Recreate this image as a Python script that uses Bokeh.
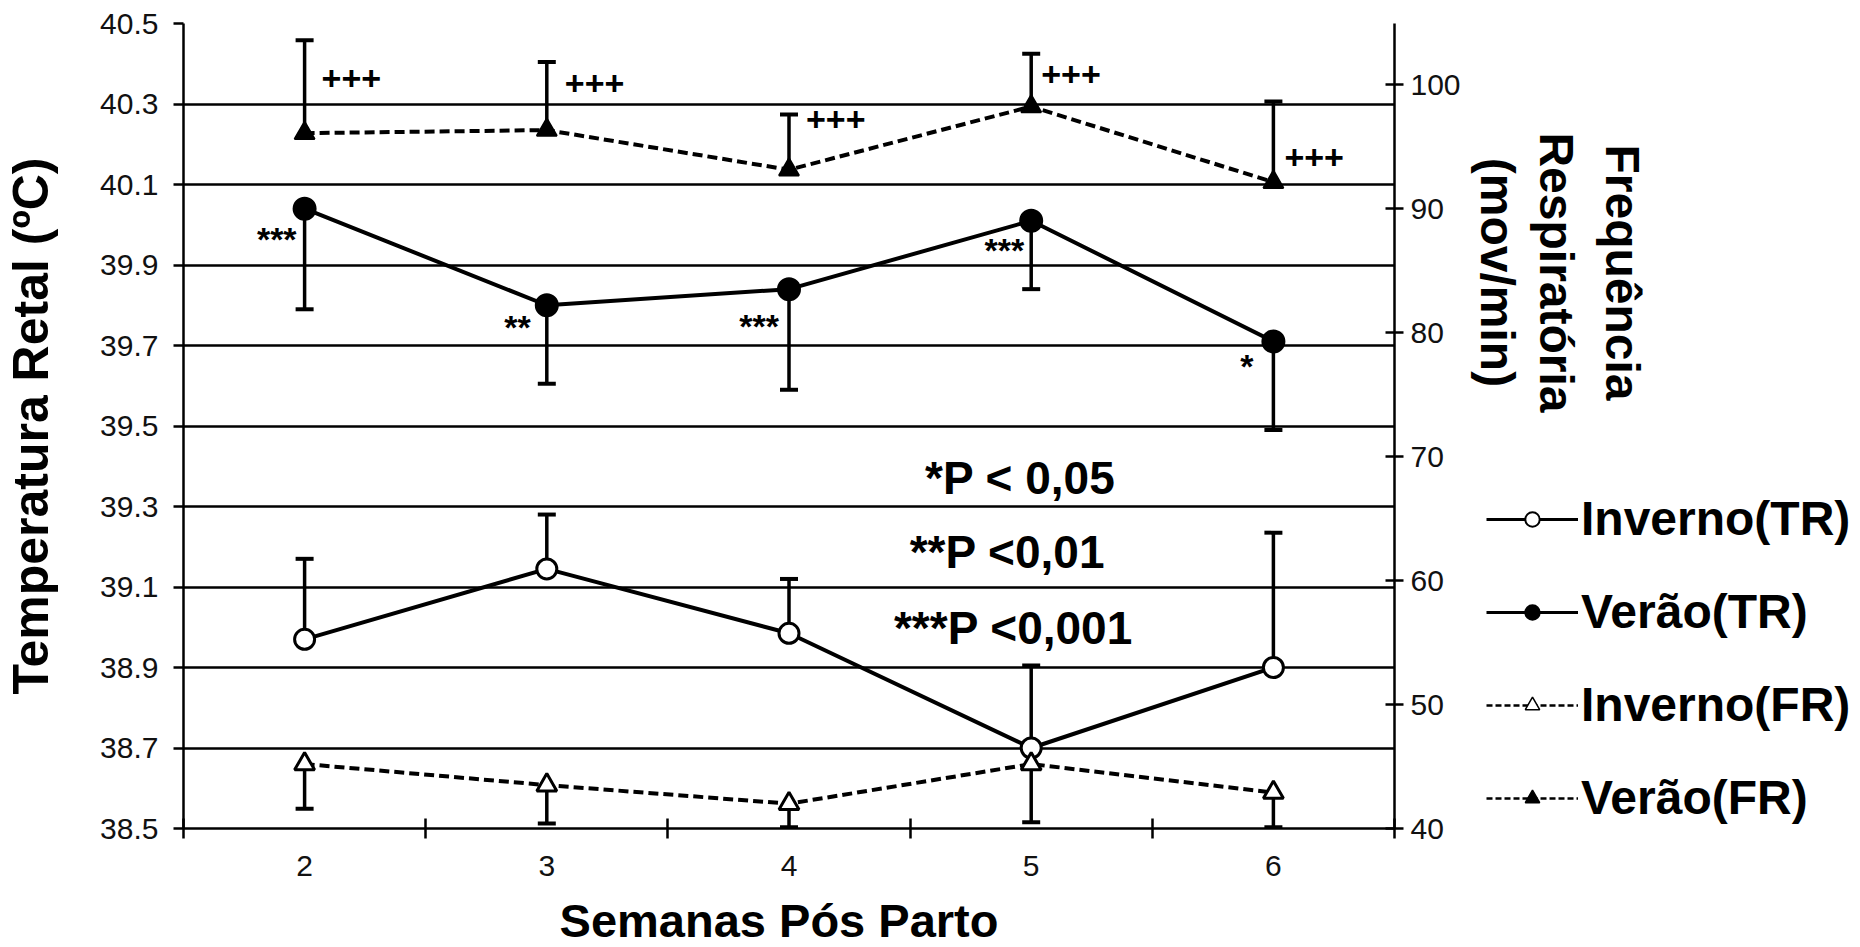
import math
from bokeh.plotting import figure
from bokeh.layouts import row, column
from bokeh.models import (Range1d, LinearAxis, FixedTicker, Legend, LegendItem,
                          Label, ColumnDataSource, NumeralTickFormatter)
from bokeh.core.properties import value
from bokeh.embed import file_html
from bokeh.resources import INLINE

# ---------------- data ----------------
weeks = [2, 3, 4, 5, 6]
tr_inverno = [38.97, 39.145, 38.985, 38.70, 38.90]
tr_inverno_up = [39.17, 39.28, 39.12, 38.905, 39.235]
tr_verao = [40.04, 39.80, 39.84, 40.01, 39.71]
tr_verao_low = [39.79, 39.605, 39.59, 39.84, 39.49]
fr_inverno = [45.2, 43.5, 42.0, 45.2, 42.9]
fr_inverno_low = [41.6, 40.4, 40.1, 40.5, 40.1]
fr_verao = [96.1, 96.35, 93.15, 98.25, 92.15]
fr_verao_up = [103.6, 101.85, 97.6, 102.5, 98.65]

sig_tr = ["***", "**", "***", "***", "*"]
sig_fr = ["+++", "+++", "+++", "+++", "+++"]

tr_ticks = [38.5, 38.7, 38.9, 39.1, 39.3, 39.5, 39.7, 39.9, 40.1, 40.3, 40.5]
fr_ticks = [40, 50, 60, 70, 80, 90, 100]
week_bounds = [1.5, 2.5, 3.5, 4.5, 5.5, 6.5]

series_names = ["Inverno(TR)", "Verão(TR)", "Inverno(FR)", "Verão(FR)"]
p_notes = ["*P < 0,05", "**P <0,01", "***P <0,001"]
x_title = "Semanas Pós Parto"
y_title = "Temperatura Retal (ºC)"
y2_title = ["Frequência", "Respiratória", "(mov/min)"]

FONT = "Liberation Sans"
MAIN_W, MAIN_H = 1465, 885
TOTAL_W, TOTAL_H = 1860, 947
FRAME_L, FRAME_R, FRAME_T, FRAME_B = 180, 1394, 23, 828

# ---------------- main figure ----------------
p = figure(width=MAIN_W, height=MAIN_H, output_backend="svg", toolbar_location=None,
           x_range=Range1d(1.5, 6.5), y_range=Range1d(38.5, 40.5),
           min_border_left=FRAME_L, min_border_right=MAIN_W - FRAME_R,
           min_border_top=FRAME_T, min_border_bottom=MAIN_H - FRAME_B)
p.extra_y_ranges = {"fr": Range1d(40, 104.95)}
p.outline_line_color = None

p.xgrid.visible = False
p.ygrid.ticker = FixedTicker(ticks=tr_ticks)
p.ygrid.grid_line_color = "black"
p.ygrid.grid_line_width = 2.5

la = p.yaxis[0]
la.ticker = FixedTicker(ticks=tr_ticks)
la.formatter = NumeralTickFormatter(format="0.0")
la.axis_label = y_title
la.axis_label_text_font = FONT
la.axis_label_text_font_style = "bold"
la.axis_label_text_font_size = "50px"
la.axis_label_text_color = "black"
la.axis_label_standoff = 38
la.major_label_text_font = FONT
la.major_label_text_font_size = "30px"
la.major_label_text_color = "#111111"
la.major_label_standoff = 15
la.major_tick_in = 0
la.major_tick_out = 10
la.major_tick_line_width = 2.5
la.minor_tick_line_color = None
la.axis_line_width = 2.5

xa = p.xaxis[0]
xa.ticker = FixedTicker(ticks=weeks, minor_ticks=week_bounds)
xa.major_label_text_font = FONT
xa.major_label_text_font_size = "30px"
xa.major_label_text_color = "#111111"
xa.major_label_standoff = 17
xa.major_tick_in = 0
xa.major_tick_out = 0
xa.minor_tick_in = 10
xa.minor_tick_out = 10
xa.minor_tick_line_width = 2.5
xa.minor_tick_line_color = "black"
xa.axis_line_width = 2.5

ra = LinearAxis(y_range_name="fr", ticker=FixedTicker(ticks=fr_ticks))
ra.major_label_text_font = FONT
ra.major_label_text_font_size = "30px"
ra.major_label_text_color = "#111111"
ra.major_label_standoff = 7
ra.major_tick_in = 9
ra.major_tick_out = 9
ra.major_tick_line_width = 2.5
ra.minor_tick_line_color = None
ra.axis_line_width = 2.5
p.add_layout(ra, "right")

src = ColumnDataSource(dict(
    w=weeks, tri=tr_inverno, triu=tr_inverno_up, trv=tr_verao, trvl=tr_verao_low,
    fri=fr_inverno, fril=fr_inverno_low, frv=fr_verao, frvu=fr_verao_up,
    sig_tr=sig_tr, sig_fr=sig_fr,
    tr_dx=[-8, -16, -10, -7, -20], tr_dy=[30, 22, 37, 29, 25],
    fr_dx=[17, 18, 17, 10, 11], fr_dy=[-55, -47, -50, -32, -25],
))

LW = 4
DASH = "10 5"

p.line("w", "tri", source=src, line_color="black", line_width=LW)
p.line("w", "trv", source=src, line_color="black", line_width=LW)
p.line("w", "fri", source=src, line_color="black", line_width=LW,
       line_dash=DASH, y_range_name="fr")
p.line("w", "frv", source=src, line_color="black", line_width=LW,
       line_dash=DASH, y_range_name="fr")

EB = 3.5
CAP = dict(marker="dash", size=18, line_color="black", line_width=4)
p.segment("w", "tri", "w", "triu", source=src, line_color="black", line_width=EB)
p.scatter("w", "triu", source=src, **CAP)
p.segment("w", "trv", "w", "trvl", source=src, line_color="black", line_width=EB)
p.scatter("w", "trvl", source=src, **CAP)
p.segment("w", "fri", "w", "fril", source=src, line_color="black", line_width=EB, y_range_name="fr")
p.scatter("w", "fril", source=src, y_range_name="fr", **CAP)
p.segment("w", "frv", "w", "frvu", source=src, line_color="black", line_width=EB, y_range_name="fr")
p.scatter("w", "frvu", source=src, y_range_name="fr", **CAP)

p.scatter("w", "tri", source=src, marker="circle", size=20, fill_color="white",
          line_color="black", line_width=3)
p.scatter("w", "trv", source=src, marker="circle", size=22, fill_color="black",
          line_color="black", line_width=2)
p.scatter("w", "fri", source=src, marker="triangle", size=20, fill_color="white",
          line_color="black", line_width=3, y_range_name="fr")
p.scatter("w", "frv", source=src, marker="triangle", size=20, fill_color="black",
          line_color="black", line_width=2, y_range_name="fr")

p.text("w", "trv", text="sig_tr", source=src, x_offset="tr_dx", y_offset="tr_dy",
       text_align="right", text_baseline="middle", text_font=value(FONT),
       text_font_style="bold", text_font_size="34px", text_color="black")
p.text("w", "frv", text="sig_fr", source=src, x_offset="fr_dx", y_offset="fr_dy",
       text_align="left", text_baseline="middle", text_font=value(FONT),
       text_font_style="bold", text_font_size="34px", text_color="black",
       y_range_name="fr")

for txt, xx, yy in zip(p_notes, [4.955, 4.902, 4.927], [39.37, 39.186, 38.997]):
    p.add_layout(Label(x=xx, y=yy, text=txt, text_align="center", text_baseline="middle",
                       text_font=FONT, text_font_style="bold", text_font_size="46px",
                       text_color="black"))

# ---------------- bottom strip with x title ----------------
# its frame is aligned by the column layout with the main frame (x 180..1394)
strip = figure(width=MAIN_W, height=TOTAL_H - MAIN_H, output_backend="svg",
               toolbar_location=None, x_axis_type=None, y_axis_type=None,
               x_range=Range1d(FRAME_L, FRAME_R), y_range=Range1d(TOTAL_H, MAIN_H),
               min_border=0, outline_line_color=None)
strip.grid.visible = False
strip.add_layout(Label(x=557, y=920, text=x_title, text_align="left",
                       text_baseline="middle", text_font=FONT, text_font_style="bold",
                       text_font_size="47px", text_color="black"))

# ---------------- side panel: right-axis title and legend ----------------
side = figure(width=TOTAL_W - MAIN_W, height=TOTAL_H, output_backend="svg",
              toolbar_location=None, x_axis_type=None, y_axis_type=None,
              x_range=Range1d(MAIN_W, TOTAL_W), y_range=Range1d(TOTAL_H, 0),
              min_border=0, outline_line_color=None)
side.grid.visible = False
for txt, xx in zip(y2_title, [1622, 1556, 1497]):
    side.add_layout(Label(x=xx, y=272, text=txt, angle=-math.pi / 2,
                          text_align="center", text_baseline="middle",
                          text_font=FONT, text_font_style="bold",
                          text_font_size="48px", text_color="black"))

# legend keys: renderers whose points lie outside the visible range
off_x, off_y = [0, 1], [0, 0]
LDASH = "6 3"
k1l = side.line(off_x, off_y, line_color="black", line_width=3)
k1m = side.scatter(off_x[:1], off_y[:1], marker="circle", size=15, fill_color="white",
                   line_color="black", line_width=2)
k2l = side.line(off_x, off_y, line_color="black", line_width=3)
k2m = side.scatter(off_x[:1], off_y[:1], marker="circle", size=15, fill_color="black",
                   line_color="black", line_width=2)
k3l = side.line(off_x, off_y, line_color="black", line_width=2.5, line_dash=LDASH)
k3m = side.scatter(off_x[:1], off_y[:1], marker="triangle", size=14, fill_color="white",
                   line_color="black", line_width=1.5)
k4l = side.line(off_x, off_y, line_color="black", line_width=2.5, line_dash=LDASH)
k4m = side.scatter(off_x[:1], off_y[:1], marker="triangle", size=14, fill_color="black",
                   line_color="black", line_width=1.5)

legend = Legend(items=[
    LegendItem(label=series_names[0], renderers=[k1l, k1m]),
    LegendItem(label=series_names[1], renderers=[k2l, k2m]),
    LegendItem(label=series_names[2], renderers=[k3l, k3m]),
    LegendItem(label=series_names[3], renderers=[k4l, k4m]),
], location=(21, 122))
legend.label_text_font = FONT
legend.label_text_font_style = "bold"
legend.label_text_font_size = "48px"
legend.label_text_color = "black"
legend.glyph_width = 92
legend.glyph_height = 36
legend.label_height = 32
legend.label_standoff = 3
legend.spacing = 38
legend.padding = 0
legend.margin = 0
legend.border_line_color = None
legend.background_fill_alpha = 0
side.add_layout(legend, "center")

layout = row(column(p, strip), side)
open("out.html", "w").write(file_html(layout, INLINE))
